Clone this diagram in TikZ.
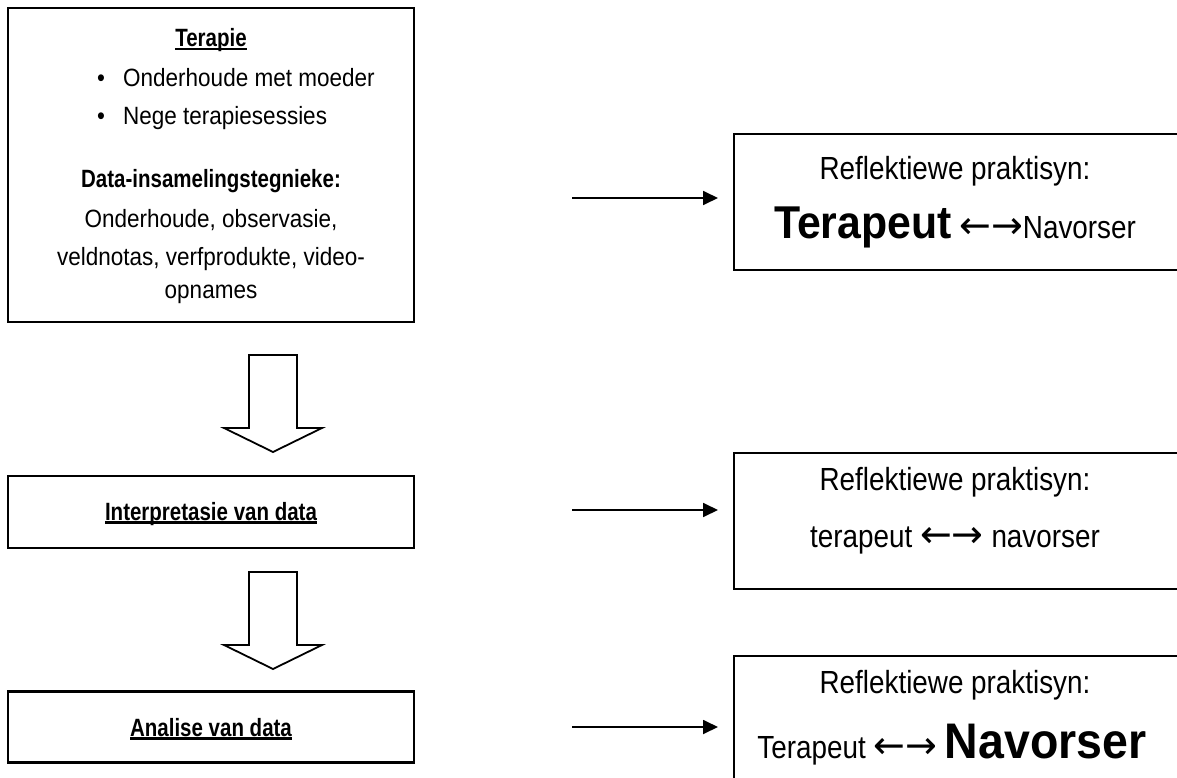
\documentclass[tikz,border=0pt]{standalone}
\usepackage{fontspec}
\setmainfont{Liberation Sans}[FakeStretch=0.9]
\newfontfamily\headfont{Liberation Sans}[FakeStretch=0.82]
\newfontfamily\sidefont{Liberation Sans}[FakeStretch=0.87]
\newfontfamily\bigfont{Liberation Sans}[FakeStretch=0.93]
\newfontfamily\arrowfont{DejaVu Sans}
\usetikzlibrary{arrows.meta}

\newcommand{\thickul}[1]{\setbox0\hbox{#1}\leavevmode\rlap{\rule[-3.5pt]{\wd0}{2.2pt}}\box0}
\newcommand{\twoway}{{\fontsize{38}{42}\arrowfont ←→}}

\begin{document}
\begin{tikzpicture}[x=1pt, y=-1pt,
  leftbox/.style={draw, line width=2.2pt, inner sep=0pt},
  rightbox/.style={draw, line width=1.8pt, inner sep=0pt, anchor=north west, minimum width=450, minimum height=136},
  ltxt/.style={inner sep=0pt, anchor=base, font=\fontsize{25}{30}\selectfont},
  lhead/.style={ltxt, font=\fontsize{25}{30}\headfont\bfseries},
  rtxt/.style={inner sep=0pt, anchor=base, font=\fontsize{32}{38}\sidefont},
  flow/.style={line width=1.8pt, -{Triangle[length=15pt,width=14pt]}, shorten >=15pt},
  downarrow/.pic={\draw[line width=1.8pt, line join=miter] (-24,0) -- (24,0) -- (24,73) -- (49,73) -- (0,97) -- (-49,73) -- (-24,73) -- cycle;}
]

\useasboundingbox (0,0) rectangle (1177,778);

% left column
\node[leftbox, minimum width=406, minimum height=314] (terapie) at (211,165) {};
\node[lhead] (terapiehead) at (211,47) {\thickul{Terapie}};
\node[ltxt] (bulA) at (101,87) {•};
\node[ltxt, anchor=base west] (itemA) at (123,87) {Onderhoude met moeder};
\node[ltxt] (bulB) at (101,125) {•};
\node[ltxt, anchor=base west] (itemB) at (123,125) {Nege terapiesessies};
\node[lhead] (datahead) at (211,188) {Data-insamelingstegnieke:};
\node[ltxt] (dataA) at (211,227) {Onderhoude, observasie,};
\node[ltxt] (dataB) at (211,265) {veldnotas, verfprodukte, video-};
\node[ltxt] (dataC) at (211,298) {opnames};

\pic at (273,355) {downarrow};

\node[leftbox, minimum width=406, minimum height=72] (interp) at (211,512) {};
\node[lhead] (interptxt) at (211,520) {\thickul{Interpretasie van data}};

\pic at (273,572) {downarrow};

\node[leftbox, minimum width=406, minimum height=71] (analise) at (211,727) {};
\node[lhead] (analisetxt) at (211,736) {\thickul{Analise van data}};

% right column
\node[rightbox] (reflA) at (733,133) {};
\node[rtxt] (reflAhead) at (955,180) {Reflektiewe praktisyn:};
\node[rtxt] (reflArole) at (955,238) {{\fontsize{46}{52}\bigfont\bfseries Terapeut} \twoway Navorser};

\node[rightbox] (reflB) at (733,452) {};
\node[rtxt] (reflBhead) at (955,490) {Reflektiewe praktisyn:};
\node[rtxt] (reflBrole) at (955,547) {terapeut \twoway{} navorser};

\node[rightbox] (reflC) at (733,655) {};
\node[rtxt] (reflChead) at (955,693) {Reflektiewe praktisyn:};
\node[rtxt] (reflCrole) at (952,758) {Terapeut \twoway{} {\fontsize{50}{56}\bigfont\bfseries Navorser}};

% connectors
\coordinate (startA) at (572,198);
\coordinate (startB) at (572,510);
\coordinate (startC) at (572,727);
\draw[flow] (startA) -- (startA -| reflA.west);
\draw[flow] (startB) -- (startB -| reflB.west);
\draw[flow] (startC) -- (startC -| reflC.west);

\end{tikzpicture}
\end{document}
